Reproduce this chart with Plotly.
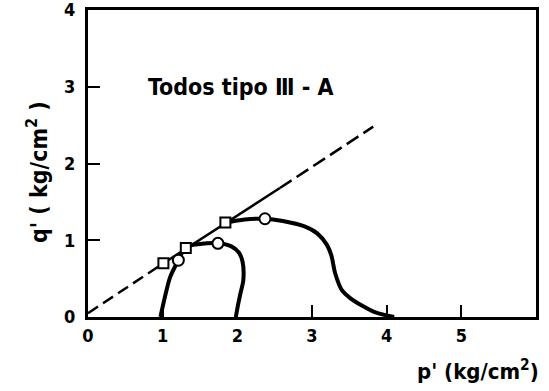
import plotly.graph_objects as go

# Stress-path data, p' and q' in kg/cm2
envelope_p = [0.0, 1.01, 2.57, 3.82]
envelope_q = [0.05, 0.70, 1.68, 2.48]

path1_p = [0.97, 1.03, 1.10, 1.21, 1.31, 1.50, 1.74, 1.92, 2.02, 2.07, 2.08, 2.04, 2.01, 1.98]
path1_q = [0.00, 0.26, 0.52, 0.74, 0.91, 0.95, 0.96, 0.92, 0.84, 0.72, 0.48, 0.30, 0.16, 0.00]

path2_p = [1.84, 2.10, 2.37, 2.61, 2.90, 3.07, 3.20, 3.26, 3.31, 3.40, 3.52, 3.65, 3.85, 4.10]
path2_q = [1.23, 1.27, 1.28, 1.25, 1.18, 1.09, 0.94, 0.80, 0.57, 0.35, 0.24, 0.16, 0.06, 0.00]

square_p = [1.01, 1.31, 1.84]
square_q = [0.70, 0.90, 1.23]
circle_p = [1.21, 1.74, 2.37]
circle_q = [0.74, 0.96, 1.28]

x_ticks = [0, 1, 2, 3, 4, 5]
y_ticks = [0, 1, 2, 3, 4]

FONT = "DejaVu Sans Condensed"

fig = go.Figure()

# failure envelope: dashed, solid through the measured points, dashed beyond
fig.add_trace(go.Scatter(x=envelope_p[0:2], y=envelope_q[0:2], mode="lines",
                         line=dict(color="black", width=2.5, dash="12px,6px")))
fig.add_trace(go.Scatter(x=envelope_p[1:3], y=envelope_q[1:3], mode="lines",
                         line=dict(color="black", width=2.5)))
fig.add_trace(go.Scatter(x=envelope_p[2:4], y=envelope_q[2:4], mode="lines",
                         line=dict(color="black", width=2.5, dash="14px,6px")))

# effective stress paths
for px, qy in ((path1_p, path1_q), (path2_p, path2_q)):
    fig.add_trace(go.Scatter(x=px, y=qy, mode="lines",
                             line=dict(color="black", width=4, shape="spline", smoothing=0.8)))

fig.add_trace(go.Scatter(x=square_p, y=square_q, mode="markers",
                         marker=dict(symbol="square", size=10, color="white",
                                     line=dict(color="black", width=2))))
fig.add_trace(go.Scatter(x=circle_p, y=circle_q, mode="markers",
                         marker=dict(symbol="circle", size=11, color="white",
                                     line=dict(color="black", width=2))))

axis_common = dict(showgrid=False, zeroline=False, showline=True, linecolor="black",
                   linewidth=3, mirror=True, ticks="inside", ticklen=12, tickwidth=1.5,
                   tickcolor="black", automargin=False, ticklabeloverflow="allow",
                   tickfont=dict(family=FONT, size=18, color="black", weight="bold"))

fig.update_xaxes(range=[0, 6], tickvals=x_ticks, ticktext=[str(v) for v in x_ticks], **axis_common)
fig.update_yaxes(range=[0, 4], tickvals=y_ticks, ticktext=[str(v) for v in y_ticks],
                 ticklabelstandoff=6, **axis_common)

W, H = 549, 391
L, R, T, B = 88, 13, 10, 74
pw, ph = W - L - R, H - T - B

fig.add_annotation(x=0.78, y=3.0, xref="x", yref="y", xanchor="left", yanchor="middle",
                   text="Todos tipo Ⅲ - A", showarrow=False,
                   font=dict(family=FONT, size=23, color="black", weight="bold"))
fig.add_annotation(x=(478 - L) / pw, y=(H - B - 370) / ph, xref="paper", yref="paper",
                   xanchor="center", yanchor="middle", showarrow=False,
                   text="p' (kg/cm<sup>2</sup>)",
                   font=dict(family=FONT, size=22, color="black", weight="bold"))
fig.add_annotation(x=(37 - L) / pw, y=(H - B - 172) / ph, xref="paper", yref="paper",
                   xanchor="center", yanchor="middle", showarrow=False, textangle=-90,
                   text="q' ( kg/cm<sup>2</sup> )",
                   font=dict(family=FONT, size=23, color="black", weight="bold"))

fig.update_layout(width=W, height=H, margin=dict(l=L, r=R, t=T, b=B, autoexpand=False),
                  plot_bgcolor="white", paper_bgcolor="white", showlegend=False)

fig.write_html("out.html")
